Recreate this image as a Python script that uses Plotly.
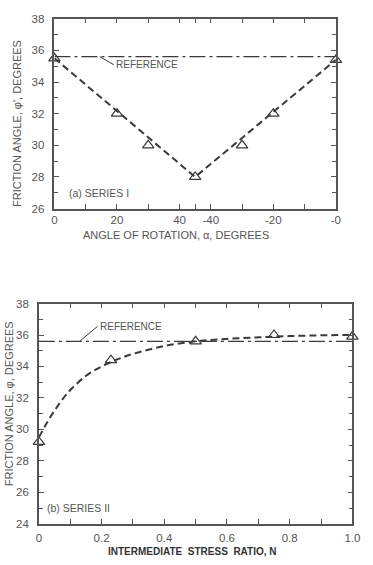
import plotly.graph_objects as go

# ---------------- Data ----------------
# (a) Series I : angle of rotation on an unfolded axis (0..45 then -45..-0 mapped to 45..90)
rot_pos = [0, 20, 30, 45, 60, 70, 90]
rot_phi = [35.5, 32.0, 30.0, 28.0, 30.0, 32.0, 35.4]
fit_a_pos = [0, 45, 90]
fit_a_phi = [35.5, 28.0, 35.4]
rot_tickvals = [0, 10, 20, 30, 40, 45, 50, 60, 70, 80, 90]
rot_ticktext = ["0", "", "20", "", "40", "", "-40", "", "-20", "", "-0"]
ref_phi = 35.6

# (b) Series II : intermediate stress ratio N
n_vals = [0.0, 0.23, 0.5, 0.75, 1.0]
n_phi = [29.2, 34.4, 35.6, 36.0, 35.9]
curve_n = [0.0, 0.025, 0.05, 0.075, 0.1, 0.15, 0.2, 0.25, 0.3, 0.4, 0.5, 0.6, 0.7, 0.8, 0.9, 1.0]
curve_phi = [29.5, 30.4, 31.2, 31.9, 32.5, 33.4, 34.0, 34.45, 34.8, 35.3, 35.6, 35.75, 35.85, 35.93, 35.98, 36.0]
n_tickvals = [0, 0.1, 0.2, 0.3, 0.4, 0.5, 0.6, 0.7, 0.8, 0.9, 1.0]
n_ticktext = ["0", "", "0.2", "", "0.4", "", "0.6", "", "0.8", "", "1.0"]

W, H = 373, 565
INK = "#3a3a3a"
TXT = "#555555"
FONT = "Liberation Sans"

fig = go.Figure()

# ---- Top panel ----
fig.add_trace(go.Scatter(x=[0, 90], y=[ref_phi, ref_phi], mode="lines",
                         line=dict(color=INK, width=1.2, dash="16px,4px,3px,4px"),
                         xaxis="x", yaxis="y", showlegend=False))
fig.add_trace(go.Scatter(x=fit_a_pos, y=fit_a_phi, mode="lines",
                         line=dict(color=INK, width=2, dash="7px,4px"),
                         xaxis="x", yaxis="y", showlegend=False))
fig.add_trace(go.Scatter(x=rot_pos, y=rot_phi, mode="markers",
                         marker=dict(symbol="triangle-up-open", size=10, color=INK, line=dict(width=1.2)),
                         cliponaxis=False, xaxis="x", yaxis="y", showlegend=False))

# ---- Bottom panel ----
fig.add_trace(go.Scatter(x=[0, 1], y=[ref_phi, ref_phi], mode="lines",
                         line=dict(color=INK, width=1.2, dash="16px,4px,3px,4px"),
                         xaxis="x2", yaxis="y2", showlegend=False))
fig.add_trace(go.Scatter(x=curve_n, y=curve_phi, mode="lines", line_shape="spline",
                         line=dict(color=INK, width=2, dash="7px,4px"),
                         xaxis="x2", yaxis="y2", showlegend=False))
fig.add_trace(go.Scatter(x=n_vals, y=n_phi, mode="markers",
                         marker=dict(symbol="triangle-up-open", size=10, color=INK, line=dict(width=1.2)),
                         cliponaxis=False, xaxis="x2", yaxis="y2", showlegend=False))

axis_common = dict(showline=True, linecolor="#555", linewidth=1.5, mirror="ticks",
                   ticks="inside", ticklen=5, tickcolor="#555", showgrid=False, zeroline=False,
                   tickfont=dict(family=FONT, size=11.5, color=TXT))

fig.update_layout(
    width=W, height=H, margin=dict(l=0, r=0, t=0, b=0),
    paper_bgcolor="white", plot_bgcolor="white",
    xaxis=dict(domain=[53 / W, 343 / W], anchor="y", range=[0, 90], ticklabelstandoff=0,
               tickmode="array", tickvals=rot_tickvals, ticktext=rot_ticktext, **axis_common),
    yaxis=dict(domain=[1 - 207 / H, 1 - 13 / H], anchor="x", range=[26, 38], ticklabelstandoff=6,
               tickmode="array", tickvals=list(range(26, 39, 2)),
               minor=dict(tickvals=list(range(27, 38, 2)), ticks="inside", ticklen=4, tickcolor="#555"),
               **axis_common),
    xaxis2=dict(domain=[37 / W, 360 / W], anchor="y2", range=[0, 1], ticklabelstandoff=3,
                tickmode="array", tickvals=n_tickvals, ticktext=n_ticktext, **axis_common),
    yaxis2=dict(domain=[1 - 529 / H, 1 - 304 / H], anchor="x2", range=[24, 38], ticklabelstandoff=6,
                tickmode="array", tickvals=list(range(24, 39, 2)),
                minor=dict(tickvals=list(range(25, 38, 2)), ticks="inside", ticklen=4, tickcolor="#555"),
                **axis_common),
)

annots = [
    dict(text="ANGLE OF ROTATION, α, DEGREES", x=178 / W, y=1 - 234 / H, xref="paper", yref="paper",
         xanchor="center", yanchor="middle",
         showarrow=False, font=dict(family=FONT, size=11, color=TXT)),
    dict(text="FRICTION ANGLE, φ', DEGREES", x=15 / W, y=1 - 120 / H, xref="paper", yref="paper",
         xanchor="center", yanchor="middle",
         textangle=-90, showarrow=False, font=dict(family=FONT, size=11, color=TXT)),
    dict(text="<b>INTERMEDIATE  STRESS  RATIO, N</b>", x=195 / W, y=1 - 557 / H, xref="paper", yref="paper",
         xanchor="center", yanchor="middle",
         showarrow=False, font=dict(family=FONT, size=10, color="#333")),
    dict(text="FRICTION ANGLE, φ, DEGREES", x=7 / W, y=1 - 406 / H, xref="paper", yref="paper",
         xanchor="center", yanchor="middle",
         textangle=-90, showarrow=False, font=dict(family=FONT, size=11, color=TXT)),
    dict(text="(a) SERIES I", x=4, y=27.0, xref="x", yref="y", xanchor="left",
         showarrow=False, font=dict(family=FONT, size=10.5, color=TXT)),
    dict(text="(b) SERIES II", x=0.02, y=25.0, xref="x2", yref="y2", xanchor="left",
         showarrow=False, font=dict(family=FONT, size=10.5, color=TXT)),
    dict(text="REFERENCE", x=14.5, y=ref_phi, xref="x", yref="y", xanchor="left", yanchor="middle",
         ax=14, ay=8, showarrow=True, arrowhead=0, arrowwidth=1, arrowcolor=INK,
         font=dict(family=FONT, size=10, color=TXT)),
    dict(text="REFERENCE", x=0.13, y=ref_phi, xref="x2", yref="y2", xanchor="left", yanchor="middle",
         ax=18, ay=-15, showarrow=True, arrowhead=0, arrowwidth=1, arrowcolor=INK,
         font=dict(family=FONT, size=10, color=TXT)),
]
fig.update_layout(annotations=annots)

fig.write_html("out.html", config={"displayModeBar": False},
               post_script="document.body.style.margin='0';document.body.style.padding='0';")
